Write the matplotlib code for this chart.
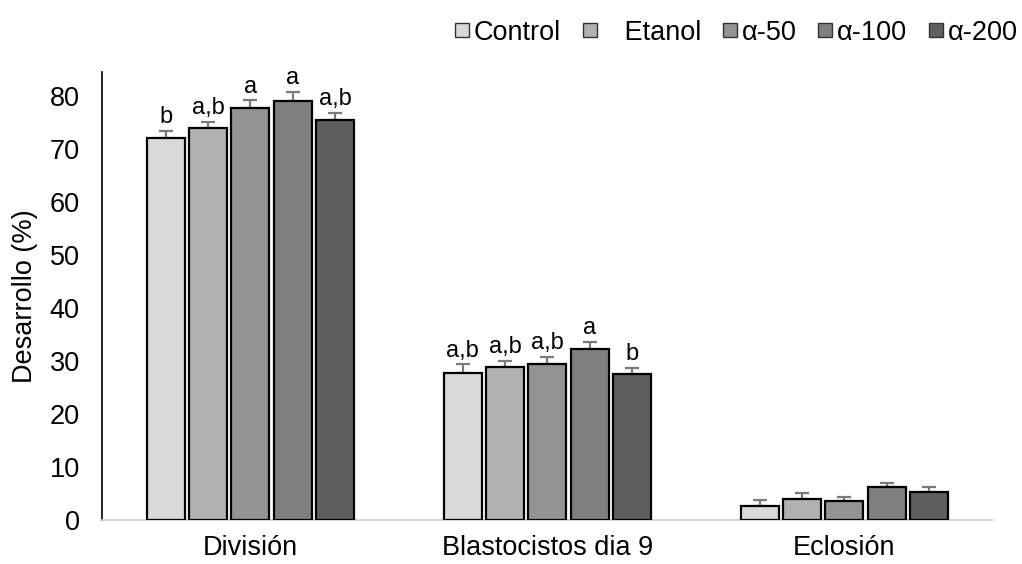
import numpy as np
import matplotlib.pyplot as plt
from matplotlib.lines import Line2D

plt.rcParams['font.family'] = ['Liberation Sans', 'DejaVu Sans']

categories = ['División', 'Blastocistos dia 9', 'Eclosión']
series = ['Control', '   Etanol', 'α-50', 'α-100', 'α-200']
values = [
    [72.1, 27.7, 2.6],   # Control
    [74.0, 28.9, 4.0],   # Etanol
    [77.7, 29.4, 3.6],   # a-50
    [79.1, 32.3, 6.2],   # a-100
    [75.5, 27.5, 5.3],   # a-200
]
errors = [
    [1.3, 1.7, 1.2],
    [1.1, 1.1, 1.1],
    [1.5, 1.4, 0.7],
    [1.7, 1.3, 0.8],
    [1.3, 1.2, 0.9],
]
letters = [
    ['b', 'a,b', ''],
    ['a,b', 'a,b', ''],
    ['a', 'a,b', ''],
    ['a', 'a', ''],
    ['a,b', 'b', ''],
]
colors = ['#d9d9d9', '#b1b1b1', '#939393', '#7f7f7f', '#5f5f5f']

fs = 19.5

fig = plt.figure(figsize=(10.22, 5.64), dpi=100)
ax = fig.add_axes([0.0998, 0.078, 0.8718, 0.794])

x = np.arange(len(categories))
slot = 0.143
w = 0.128
for i, s in enumerate(series):
    pos = x + (i - 2) * slot
    ax.bar(pos, values[i], width=w, color=colors[i], edgecolor='black',
           linewidth=1.6, zorder=3)
    ax.errorbar(pos, values[i], yerr=[np.zeros(3), errors[i]], fmt='none',
                ecolor='#7a7a7a', elinewidth=1.6, capsize=5, capthick=1.6, zorder=2)
    for j in range(3):
        if letters[i][j]:
            ax.text(pos[j], values[i][j] + errors[i][j] + 0.5, letters[i][j],
                    ha='center', va='bottom', fontsize=17)

ax.set_xlim(-0.5, 2.5)
ax.set_ylim(0, 84.5)
ax.set_yticks(range(0, 81, 10))
ax.set_xticks(x)
ax.set_xticklabels(categories)
ax.tick_params(axis='both', length=0, labelsize=fs)
ax.tick_params(axis='y', pad=16)
ax.tick_params(axis='x', pad=11)
ax.set_ylabel('Desarrollo (%)', fontsize=fs, labelpad=8)

for sp in ['top', 'right']:
    ax.spines[sp].set_visible(False)
ax.spines['left'].set_color('black')
ax.spines['left'].set_linewidth(1.2)
ax.spines['bottom'].set_color('#d0d0d0')
ax.spines['bottom'].set_linewidth(1.2)

handles = [Line2D([], [], marker='s', linestyle='none', markersize=10.5,
                  markerfacecolor=c, markeredgecolor='#333333', markeredgewidth=1.0)
           for c in colors]
fig.legend(handles, series, loc='upper right', bbox_to_anchor=(1.02, 1.008),
           ncol=5, frameon=False, fontsize=fs, handletextpad=0.15,
           columnspacing=0.75, handlelength=0.6)

fig.savefig('out.png', dpi=100)
